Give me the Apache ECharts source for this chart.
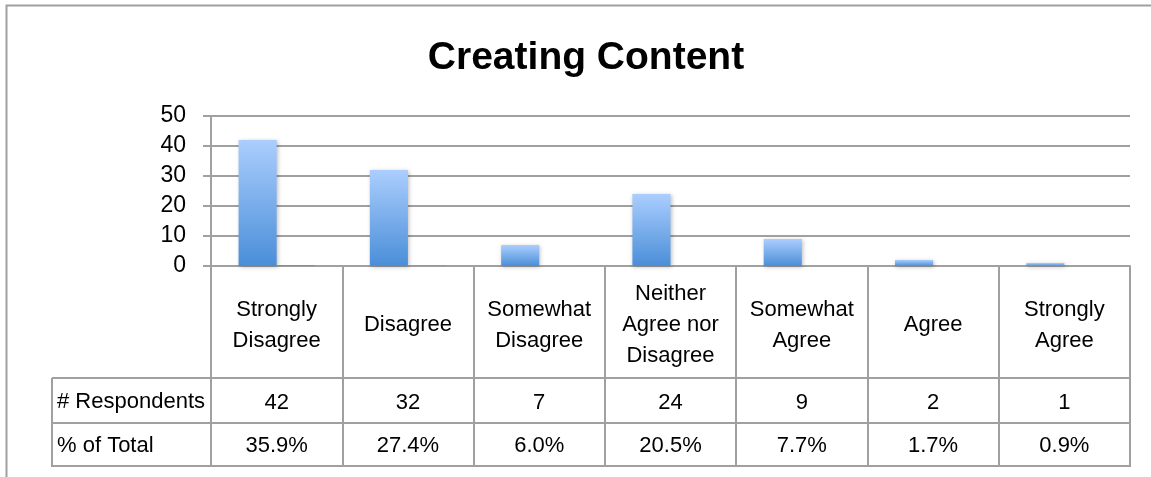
<!DOCTYPE html>
<html>
<head>
<meta charset="utf-8">
<script src="https://cdn.jsdelivr.net/npm/echarts@6/dist/echarts.min.js"></script>
<style>
  html, body { margin: 0; padding: 0; background: #fff; }
  #chart { width: 1151px; height: 477px; }
</style>
</head>
<body>
<div id="chart"></div>
<script>
// Survey responses: "Creating Content"
const categories = [
  'Strongly\nDisagree', 'Disagree', 'Somewhat\nDisagree',
  'Neither\nAgree nor\nDisagree', 'Somewhat\nAgree', 'Agree', 'Strongly\nAgree'
];
const respondents = [42, 32, 7, 24, 9, 2, 1];
const percentOfTotal = [35.9, 27.4, 6.0, 20.5, 7.7, 1.7, 0.9];
const rowHeaders = ['# Respondents', '% of Total'];
const yTicks = { min: 0, max: 50, interval: 10 };

const FONT = "'Liberation Sans', Arial, Helvetica, sans-serif";
const LINE = '#a0a0a0';

// layout of plot + data table
const W = 1151, H = 477;
const plotLeft = 211, plotRight = 1130, plotTop = 116, plotBottom = 266;
const rowLines = [378, 423, 466];
const tableLeft = 52;

const chart = echarts.init(document.getElementById('chart'), null, { renderer: 'canvas' });

const labelBase = { fontFamily: FONT, fontSize: 22, color: '#000' };

const option = {
  backgroundColor: '#fff',
  animation: false,
  title: {
    text: 'Creating Content',
    left: 581, top: 34, textAlign: 'center',
    textStyle: { fontFamily: FONT, fontWeight: 'bold', fontSize: 39, color: '#000' }
  },
  grid: { left: plotLeft, right: W - plotRight, top: plotTop, bottom: H - plotBottom, containLabel: false },
  yAxis: {
    type: 'value', min: yTicks.min, max: yTicks.max, interval: yTicks.interval,
    axisLine: { show: true, lineStyle: { color: LINE, width: 2 } },
    axisTick: { show: true, length: 8, lineStyle: { color: LINE, width: 2 } },
    splitLine: { show: true, lineStyle: { color: LINE, width: 2 } },
    axisLabel: Object.assign({ margin: 25 }, labelBase, { fontSize: 23 })
  },
  xAxis: [
    {
      type: 'category', data: categories, position: 'bottom',
      axisLine: { show: true, lineStyle: { color: LINE, width: 2 } },
      axisTick: { show: true, length: rowLines[2] - plotBottom, interval: 0, lineStyle: { color: LINE, width: 2 } },
      axisLabel: Object.assign({ interval: 0, margin: 59, verticalAlign: 'middle', lineHeight: 31, align: 'center' }, labelBase)
    },
    {
      type: 'category', data: respondents.map(String), position: 'bottom',
      axisLine: { show: false }, axisTick: { show: false },
      axisLabel: Object.assign({ interval: 0, margin: 137, verticalAlign: 'middle' }, labelBase)
    },
    {
      type: 'category', data: percentOfTotal.map(v => v.toFixed(1) + '%'), position: 'bottom',
      axisLine: { show: false }, axisTick: { show: false },
      axisLabel: Object.assign({ interval: 0, margin: 180, verticalAlign: 'middle' }, labelBase)
    }
  ],
  series: [
    {
      name: '# Respondents', type: 'bar', xAxisIndex: 0, data: respondents,
      barGap: '0%', barCategoryGap: '42%',
      itemStyle: {
        color: new echarts.graphic.LinearGradient(0, 0, 0, 1, [
          { offset: 0, color: '#abcefe' }, { offset: 1, color: '#4a8ed8' }
        ]),
        shadowColor: 'rgba(0,0,0,0.25)', shadowBlur: 4, shadowOffsetX: 1, shadowOffsetY: 1
      }
    },
    {
      name: '% of Total', type: 'bar', xAxisIndex: 0, data: percentOfTotal.map(v => v / 100),
      itemStyle: {
        color: new echarts.graphic.LinearGradient(0, 0, 0, 1, [
          { offset: 0, color: '#d99694' }, { offset: 1, color: '#c0504d' }
        ])
      }
    }
  ],
  graphic: [
    // chart frame
    { type: 'polyline', shape: { points: [[6.5, H], [6.5, 5.5], [W, 5.5]] }, style: { stroke: LINE, lineWidth: 2, fill: null } },
    // data table rules
    ...rowLines.map(y => ({ type: 'line', shape: { x1: tableLeft, y1: y, x2: plotRight + 1, y2: y }, style: { stroke: LINE, lineWidth: 2 } })),
    { type: 'line', shape: { x1: tableLeft, y1: rowLines[0], x2: tableLeft, y2: rowLines[2] + 1 }, style: { stroke: LINE, lineWidth: 2 } },
    // row headers
    ...rowHeaders.map((t, i) => ({
      type: 'text', x: tableLeft + 5, y: (rowLines[i] + rowLines[i + 1]) / 2 + 1,
      style: { text: t, font: `22px ${FONT}`, fill: '#000', textVerticalAlign: 'middle', textAlign: 'left' }
    }))
  ]
};

chart.setOption(option);
</script>
</body>
</html>
